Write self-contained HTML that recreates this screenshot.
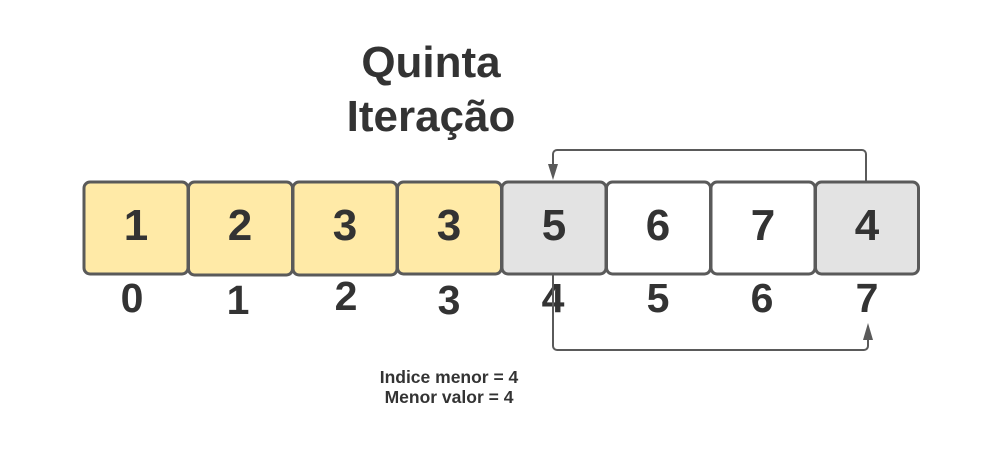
<!DOCTYPE html>
<html><head><meta charset="utf-8"><style>
html,body{margin:0;padding:0;background:#fff;}
svg{display:block;}
text{font-family:"Liberation Sans",Arial,sans-serif;font-weight:bold;fill:#333;text-anchor:middle;}
</style></head><body>
<svg width="1000" height="460" viewBox="0 0 1000 460" xmlns="http://www.w3.org/2000/svg">
<rect width="1000" height="460" fill="#fff"/>
<text x="431" y="77" font-size="44">Quinta</text>
<text x="431" y="131" font-size="44">Iteração</text>
<g stroke="#5a5a5a" stroke-width="3">
<rect x="84" y="182" width="104" height="92" rx="6" fill="#ffeaa7"/>
<rect x="188.5" y="182" width="104" height="93" rx="6" fill="#ffeaa7"/>
<rect x="293" y="182" width="104" height="93" rx="6" fill="#ffeaa7"/>
<rect x="397.5" y="182" width="104" height="92" rx="6" fill="#ffeaa7"/>
<rect x="502" y="182" width="104" height="92" rx="6" fill="#e3e3e3"/>
<rect x="606.5" y="182" width="104" height="92" rx="6" fill="#fff"/>
<rect x="711" y="182" width="104" height="92" rx="6" fill="#fff"/>
<rect x="815.5" y="182" width="103" height="92" rx="6" fill="#e3e3e3"/>
</g>
<g font-size="44">
<text x="136" y="240">1</text>
<text x="240" y="240">2</text>
<text x="345" y="240">3</text>
<text x="449" y="240">3</text>
<text x="554" y="240">5</text>
<text x="658" y="240">6</text>
<text x="763" y="240">7</text>
<text x="867" y="240">4</text>
</g>
<g font-size="41">
<text x="132" y="312">0</text>
<text x="238" y="314">1</text>
<text x="346" y="310">2</text>
<text x="449" y="314">3</text>
<text x="553" y="312">4</text>
<text x="658" y="312">5</text>
<text x="762" y="312">6</text>
<text x="867" y="312">7</text>
</g>
<g fill="none" stroke="#5a5a5a" stroke-width="2">
<path d="M866 181 V154 a4 4 0 0 0 -4 -4 H557 a4 4 0 0 0 -4 4 V166"/>
<path d="M553 274 V346 a4 4 0 0 0 4 4 H864 a4 4 0 0 0 4 -4 V338"/>
</g>
<polygon points="548,164 558,164 553,180" fill="#5a5a5a"/>
<polygon points="863,340 873,340 868,323" fill="#5a5a5a"/>
<text x="449" y="383" font-size="17.5">Indice menor = 4</text>
<text x="449" y="403" font-size="17.5">Menor valor = 4</text>
</svg>
</body></html>
